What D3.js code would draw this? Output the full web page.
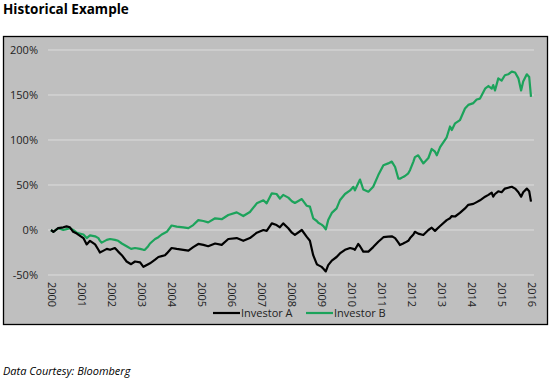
<!DOCTYPE html>
<html><head><meta charset="utf-8">
<script src="https://cdn.jsdelivr.net/npm/d3@7"></script>
<style>
body{margin:0;background:#fff;}
svg{display:block;font-family:"Open Sans",sans-serif;}
</style></head>
<body>
<svg id="chart" width="550" height="383"></svg>
<script>
const dates = [2000.00,2000.08,2000.24,2000.41,2000.52,2000.63,2000.74,2000.86,2001.08,2001.19,2001.30,2001.47,2001.58,2001.63,2001.69,2001.86,2001.97,2002.13,2002.24,2002.36,2002.52,2002.67,2002.80,2002.97,2003.08,2003.13,2003.24,2003.30,2003.47,2003.58,2003.69,2003.80,2003.86,2004.02,2004.19,2004.41,2004.58,2004.74,2004.91,2005.08,2005.24,2005.47,2005.69,2005.91,2006.19,2006.41,2006.63,2006.86,2007.08,2007.19,2007.36,2007.52,2007.63,2007.74,2007.91,2008.03,2008.13,2008.36,2008.52,2008.63,2008.74,2008.86,2008.91,2009.02,2009.08,2009.16,2009.24,2009.36,2009.52,2009.63,2009.80,2009.97,2010.08,2010.13,2010.24,2010.30,2010.41,2010.58,2010.74,2010.91,2011.08,2011.24,2011.36,2011.47,2011.58,2011.63,2011.74,2011.80,2011.91,2011.97,2012.08,2012.13,2012.24,2012.41,2012.58,2012.69,2012.80,2012.86,2012.97,2013.19,2013.30,2013.36,2013.47,2013.63,2013.80,2013.91,2014.08,2014.19,2014.30,2014.47,2014.58,2014.69,2014.74,2014.80,2014.91,2015.02,2015.13,2015.24,2015.36,2015.47,2015.58,2015.67,2015.74,2015.86,2015.94,2016.00];
const investorA = [0,-2,2,3,4,3,-2,-4,-9,-16,-12,-16,-22,-25,-24,-21,-22,-20,-24,-28,-35,-38,-35,-36,-41,-40,-38,-37,-33,-30,-29,-28,-26,-20,-21,-22,-23,-19,-15.5,-16.5,-18,-15,-16.5,-10,-9,-12,-9,-3,0,-1,7.4,5.5,3,7.4,2,-3,-5.5,0,-7.4,-12,-28,-38,-39,-41,-43,-46,-39,-34,-30,-26,-22,-20,-21,-22,-15.5,-18,-24,-24,-19,-13,-8,-7.4,-7,-9,-14,-16.7,-15,-14,-12,-9,-5,-2,-4,-5.5,0,2.6,-1,1,4.4,11,13,15.5,15,19,24,28,29,31,33,37,39,41.5,37,40,43,42,46,47,48,46,42,37,42,46,43,31.5];
const investorB = [0,-2,2,0,1,2,0,-3,-5,-9,-6,-7,-9,-12,-14,-11,-10,-11,-12,-15,-18,-21,-20,-21,-22,-22,-18,-15,-10,-8,-5,-3,-2,5,3.7,3,2,5.5,11,10,8.5,13,12,16.7,19.6,15.5,20,29.6,33,29.6,40.7,40,35,39,36,32,30,34.4,27,26,13,10,8,6,4.4,0.7,11,19,24,33,40,44,48,44,52,56,45,42.6,48,61,72,74,76,70,57,57,59,60,63,66.7,76,81,83,74,80,90,87,83,92,103,115,111,118.5,122,135,139,141,145,146,157,160,157,161,155,168.5,166,172,173,176,175,168.5,155,165,173,170,148];
const yTicks = [-50,0,50,100,150,200];
const yearTicks = [2000,2001,2002,2003,2004,2005,2006,2007,2008,2009,2010,2011,2012,2013,2014,2015,2016];
const seriesNames = ["Investor A","Investor B"];
const seriesColors = ["#000000","#1ca35b"];

const svg = d3.select("#chart");
svg.append("text").attr("x",3).attr("y",14).attr("font-weight","bold").attr("font-size",13.5).attr("fill","#000").text("Historical Example");
svg.append("rect").attr("x",3.5).attr("y",36.5).attr("width",544).attr("height",288).attr("fill","#bfbfbf").attr("stroke","#000").attr("stroke-width",1.3);

const x = d3.scaleLinear().domain([2000,2016]).range([51,531]);
const y = d3.scaleLinear().domain([-50,200]).range([275,50]);

svg.append("g").selectAll("line").data(yTicks).join("line")
  .attr("x1",48).attr("x2",534).attr("y1",d=>y(d)).attr("y2",d=>y(d))
  .attr("stroke","#dcdcdc").attr("stroke-width",1);

const yAxis = d3.axisLeft(y).tickValues(yTicks).tickSize(0).tickPadding(0).tickFormat(d=>d+"%");
const gy = svg.append("g").attr("transform","translate(38,0)").call(yAxis);
gy.select(".domain").remove();
gy.selectAll("text").attr("font-size",11).attr("fill","#222").attr("font-family","Open Sans");

const xAxis = d3.axisBottom(x).tickValues(yearTicks).tickSize(0).tickFormat(d3.format("d"));
const gx = svg.append("g").attr("transform","translate(0,282)").call(xAxis);
gx.select(".domain").remove();
gx.selectAll("text").attr("font-size",11).attr("fill","#222").attr("font-family","Open Sans")
  .attr("transform","rotate(90)").attr("text-anchor","start").attr("x",0).attr("y",0).attr("dy","0.35em");

const rows = dates.map((d,i)=>({d, a:investorA[i], b:investorB[i]}));
const lineA = d3.line().x(r=>x(r.d)).y(r=>y(r.a));
const lineB = d3.line().x(r=>x(r.d)).y(r=>y(r.b));
svg.append("path").datum(rows).attr("d",lineB).attr("fill","none").attr("stroke",seriesColors[1]).attr("stroke-width",2.2).attr("stroke-linejoin","round");
svg.append("path").datum(rows).attr("d",lineA).attr("fill","none").attr("stroke",seriesColors[0]).attr("stroke-width",2.2).attr("stroke-linejoin","round");

const legX = [213,306];
seriesNames.forEach((n,i)=>{
  svg.append("line").attr("x1",legX[i]).attr("x2",legX[i]+27).attr("y1",313).attr("y2",313).attr("stroke",seriesColors[i]).attr("stroke-width",2.2);
  svg.append("text").attr("x",legX[i]+28).attr("y",317).attr("font-size",11).attr("fill","#222").text(n);
});

svg.append("text").attr("x",3).attr("y",375).attr("font-style","italic").attr("font-size",11).attr("fill","#000").text("Data Courtesy: Bloomberg");
</script>
</body></html>
